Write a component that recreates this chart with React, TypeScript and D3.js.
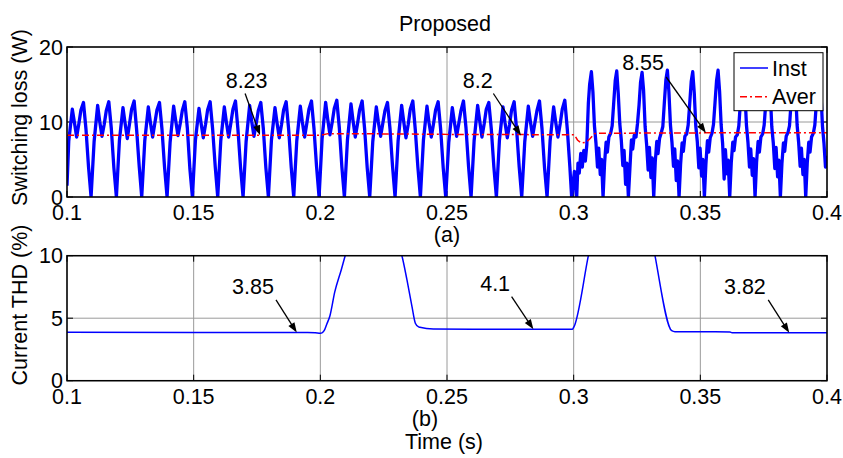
import React from "react";
import * as d3 from "d3";

// ---------------- DATA ----------------
const xTicks = [0.1, 0.15, 0.2, 0.25, 0.3, 0.35, 0.4];
const xTickLabels = ["0.1", "0.15", "0.2", "0.25", "0.3", "0.35", "0.4"];
const lossTicks = [0, 10, 20];
const thdTicks = [0, 5, 10];

// Instantaneous switching loss (W) vs time (s)
const instLoss: [number, number][] = [
  [0.1, 1.5], [0.1007, 7.5], [0.1021, 11.7], [0.1029, 10.0], [0.1038, 8.0], [0.1047, 9.8], [0.1055, 11.6], [0.1065, 12.6], [0.1075, 9.0], [0.1085, 4.0],
  [0.1095, 0], [0.1107, 7.4], [0.1121, 12.2], [0.1129, 10.1], [0.1138, 8.1], [0.1147, 9.7], [0.1155, 11.5], [0.1165, 12.7], [0.1175, 9.1], [0.1185, 3.9],
  [0.1195, 0], [0.1207, 7.6], [0.1221, 11.9], [0.1229, 9.9], [0.1238, 7.8], [0.1247, 9.8], [0.1255, 11.7], [0.1265, 12.8], [0.1275, 8.9], [0.1285, 4.1],
  [0.1295, 0], [0.1307, 7.5], [0.1321, 12.0], [0.1329, 10.0], [0.1338, 8.0], [0.1347, 9.9], [0.1355, 11.6], [0.1365, 12.6], [0.1375, 9.0], [0.1385, 4.0],
  [0.1395, 0], [0.1407, 7.3], [0.1421, 12.1], [0.1429, 10.2], [0.1438, 8.2], [0.1447, 9.8], [0.1455, 11.5], [0.1465, 12.7], [0.1475, 9.2], [0.1485, 3.8],
  [0.1495, 0], [0.1507, 7.6], [0.1521, 11.8], [0.1529, 9.9], [0.1538, 7.9], [0.1547, 9.7], [0.1555, 11.6], [0.1565, 12.7], [0.1575, 9.0], [0.1585, 4.1],
  [0.1595, 0], [0.1607, 7.5], [0.1621, 12.0], [0.1629, 10.0], [0.1638, 8.0], [0.1647, 9.9], [0.1655, 11.7], [0.1665, 12.8], [0.1675, 8.9], [0.1685, 4.0],
  [0.1695, 0], [0.1707, 7.4], [0.1721, 12.2], [0.1729, 10.1], [0.1738, 8.1], [0.1747, 9.8], [0.1755, 11.5], [0.1765, 12.6], [0.1775, 9.1], [0.1785, 3.9],
  [0.1795, 0], [0.1807, 7.6], [0.1821, 11.9], [0.1829, 9.9], [0.1838, 7.9], [0.1847, 9.7], [0.1855, 11.6], [0.1865, 12.7], [0.1875, 9.0], [0.1885, 4.0],
  [0.1895, 0], [0.1907, 7.5], [0.1921, 12.1], [0.1929, 10.0], [0.1938, 8.0], [0.1947, 9.9], [0.1955, 11.7], [0.1965, 12.8], [0.1975, 9.1], [0.1985, 4.1],
  [0.1995, 0], [0.2007, 7.8], [0.2021, 12.6], [0.2029, 10.4], [0.2038, 8.3], [0.2047, 10.0], [0.2055, 11.8], [0.2065, 12.9], [0.2075, 9.2], [0.2085, 4.0],
  [0.2095, 0], [0.2107, 7.6], [0.2121, 12.4], [0.2129, 10.2], [0.2138, 8.0], [0.2147, 9.8], [0.2155, 11.6], [0.2165, 12.8], [0.2175, 9.0], [0.2185, 3.9],
  [0.2195, 0], [0.2207, 7.4], [0.2221, 12.0], [0.2229, 10.0], [0.2238, 8.1], [0.2247, 9.9], [0.2255, 11.5], [0.2265, 12.6], [0.2275, 9.1], [0.2285, 4.1],
  [0.2295, 0], [0.2307, 7.5], [0.2321, 12.2], [0.2329, 10.1], [0.2338, 7.9], [0.2347, 9.7], [0.2355, 11.7], [0.2365, 12.8], [0.2375, 8.9], [0.2385, 4.0],
  [0.2395, 0], [0.2407, 7.6], [0.2421, 12.1], [0.2429, 9.9], [0.2438, 8.0], [0.2447, 9.8], [0.2455, 11.6], [0.2465, 12.7], [0.2475, 9.0], [0.2485, 3.9],
  [0.2495, 0], [0.2507, 7.3], [0.2521, 11.9], [0.2529, 10.0], [0.2538, 8.1], [0.2547, 9.9], [0.2555, 11.5], [0.2565, 12.8], [0.2575, 9.2], [0.2585, 4.1],
  [0.2595, 0], [0.2607, 7.5], [0.2621, 12.2], [0.2629, 10.2], [0.2638, 8.0], [0.2647, 9.8], [0.2655, 11.7], [0.2665, 12.6], [0.2675, 9.0], [0.2685, 4.0],
  [0.2695, 0], [0.2707, 7.6], [0.2721, 12.0], [0.2729, 9.9], [0.2738, 7.9], [0.2747, 9.7], [0.2755, 11.6], [0.2765, 12.7], [0.2775, 8.9], [0.2785, 4.0],
  [0.2795, 0], [0.2807, 7.4], [0.2821, 12.1], [0.2829, 10.1], [0.2838, 8.1], [0.2847, 9.9], [0.2855, 11.5], [0.2865, 12.8], [0.2875, 9.1], [0.2885, 3.9],
  [0.2895, 0], [0.2907, 7.5], [0.2921, 12.0], [0.2929, 10.0], [0.2938, 8.0], [0.2947, 9.8], [0.2955, 11.7], [0.2965, 12.9], [0.2975, 9.0], [0.2985, 4.0],
  [0.2992, 0], [0.3, 2.5], [0.3003, 3.4], [0.3008, 1.0], [0.3012, 0], [0.3017, 4.5], [0.3022, 3.2], [0.3028, 5.8], [0.3034, 4.0], [0.304, 6.2], [0.3046, 4.8], [0.3052, 7.0], [0.3058, 12.5], [0.3063, 15.0], [0.307, 16.7],
  [0.3076, 14.0], [0.3082, 9.5], [0.3088, 7.2], [0.3094, 4.0], [0.3099, 6.5], [0.3105, 3.0], [0.311, 5.0], [0.3116, 0], [0.3122, 4.5], [0.3128, 7.3], [0.3133, 6.0], [0.3139, 8.0], [0.3146, 8.5], [0.3152, 9.5], [0.3158, 12.5], [0.3164, 15.5], [0.317, 16.8],
  [0.3176, 13.8], [0.3182, 9.8], [0.3188, 7.6], [0.3194, 4.2], [0.3199, 6.2], [0.3205, 1.7], [0.321, 4.5], [0.3216, 0], [0.3222, 3.8], [0.3228, 7.6], [0.3233, 6.4], [0.3239, 8.2], [0.3246, 8.0], [0.3252, 9.8], [0.3258, 12.2], [0.3264, 15.3], [0.327, 16.6],
  [0.3276, 14.2], [0.3282, 9.4], [0.3288, 7.0], [0.3294, 3.6], [0.3299, 6.6], [0.3305, 2.6], [0.331, 5.2], [0.3316, 0], [0.3322, 4.6], [0.3328, 7.4], [0.3333, 5.8], [0.3339, 7.8], [0.3346, 8.6], [0.3352, 9.4], [0.3358, 12.6], [0.3364, 15.6], [0.337, 16.9],
  [0.3376, 14.0], [0.3382, 9.6], [0.3388, 7.3], [0.3394, 4.1], [0.3399, 6.4], [0.3405, 2.2], [0.341, 4.8], [0.3416, 0], [0.3422, 4.3], [0.3428, 7.2], [0.3433, 6.1], [0.3439, 8.1], [0.3446, 8.4], [0.3452, 9.6], [0.3458, 12.4], [0.3464, 15.4], [0.347, 16.7],
  [0.3476, 13.9], [0.3482, 9.5], [0.3488, 7.4], [0.3494, 3.9], [0.3499, 6.5], [0.3505, 2.8], [0.351, 5.0], [0.3516, 0], [0.3522, 4.4], [0.3528, 7.5], [0.3533, 6.0], [0.3539, 7.9], [0.3546, 8.5], [0.3552, 9.7], [0.3558, 12.6], [0.3564, 15.5], [0.357, 16.9],
  [0.3576, 14.1], [0.3582, 9.7], [0.3588, 7.1], [0.3594, 2.4], [0.3599, 6.3], [0.3605, 3.1], [0.361, 4.9], [0.3616, 0], [0.3622, 4.5], [0.3628, 7.3], [0.3633, 6.2], [0.3639, 8.0], [0.3646, 8.3], [0.3652, 9.5], [0.3658, 12.5], [0.3664, 15.4], [0.367, 16.8],
  [0.3676, 14.0], [0.3682, 9.6], [0.3688, 7.3], [0.3694, 4.0], [0.3699, 6.4], [0.3705, 2.9], [0.371, 5.1], [0.3716, 0], [0.3722, 4.6], [0.3728, 7.4], [0.3733, 6.0], [0.3739, 8.0], [0.3746, 8.4], [0.3752, 9.6], [0.3758, 12.4], [0.3764, 15.5], [0.377, 16.7],
  [0.3776, 13.9], [0.3782, 9.4], [0.3788, 7.2], [0.3794, 3.8], [0.3799, 6.6], [0.3805, 2.7], [0.381, 4.9], [0.3816, 0], [0.3822, 4.4], [0.3828, 7.2], [0.3833, 6.1], [0.3839, 8.1], [0.3846, 8.6], [0.3852, 9.5], [0.3858, 12.5], [0.3864, 15.6], [0.387, 16.8],
  [0.3876, 14.1], [0.3882, 9.6], [0.3888, 7.3], [0.3894, 4.1], [0.3899, 6.5], [0.3905, 3.0], [0.391, 5.0], [0.3916, 0], [0.3922, 4.5], [0.3928, 7.3], [0.3933, 6.0], [0.3939, 8.0], [0.3946, 8.5], [0.3952, 9.6], [0.3958, 12.5], [0.3964, 15.5], [0.397, 16.8],
  [0.3976, 14.0], [0.3982, 9.5], [0.3988, 7.2], [0.3994, 4.0], [0.4, 5.5],
];

// Average switching loss (W)
const averLoss: [number, number][] = [
  [0.1, 8.23], [0.2, 8.23], [0.2005, 8.26], [0.203, 8.45], [0.21, 8.45], [0.25, 8.35], [0.298, 8.3], [0.3003, 8.3],
  [0.3015, 7.6], [0.303, 7.2], [0.305, 7.3], [0.3065, 7.8], [0.3082, 8.45], [0.31, 8.5], [0.35, 8.55], [0.4, 8.58],
];

// Current THD (%)
const thd: [number, number][] = [
  [0.1, 3.87], [0.15, 3.86], [0.195, 3.85], [0.198, 3.83], [0.2, 3.79], [0.2008, 3.84], [0.2015, 4.0], [0.2025, 4.5],
  [0.2038, 5.2], [0.2057, 7.1], [0.2083, 8.9], [0.2098, 10.0], [0.212, 11.5], [0.229, 11.5], [0.2322, 10.0],
  [0.2342, 8.06], [0.2362, 5.9], [0.2375, 4.6], [0.2388, 4.3], [0.2393, 4.27], [0.2446, 4.14], [0.26, 4.12], [0.2995, 4.12],
  [0.3001, 4.3], [0.3058, 10.0], [0.307, 11.2], [0.331, 11.2], [0.3321, 10.0], [0.3387, 4.0], [0.34, 3.92],
  [0.3617, 3.9], [0.3625, 3.84], [0.4, 3.83],
];

const legendLabels = ["Inst", "Aver"];

const lossNotes = [
  { label: "8.23", tx: 0.1709, tv: 15.5, sx: 0.1703, sv: 13.8, ex: 0.1762, ev: 8.23 },
  { label: "8.2", tx: 0.2621, tv: 15.6, sx: 0.2683, sv: 13.8, ex: 0.2792, ev: 8.2 },
  { label: "8.55", tx: 0.3274, tv: 17.9, sx: 0.3365, sv: 16.0, ex: 0.3522, ev: 8.55 },
];
const thdNotes = [
  { label: "3.85", tx: 0.1734, tv: 7.52, sx: 0.1825, sv: 6.46, ex: 0.1907, ev: 3.85 },
  { label: "4.1", tx: 0.269, tv: 7.82, sx: 0.2755, sv: 6.72, ex: 0.2841, ev: 4.12 },
  { label: "3.82", tx: 0.3676, tv: 7.52, sx: 0.3768, sv: 6.46, ex: 0.3851, ev: 3.83 },
];

// ---------------- LAYOUT ----------------
const W = 843;
const H = 458;
const FONT = "Arial, 'Liberation Sans', sans-serif";
const FS = 21.5;
const X0 = 67;
const X1 = 827;
const TOP = { y0: 47, y1: 197 };
const BOT = { y0: 255.7, y1: 380.7 };

const x = d3.scaleLinear().domain([0.1, 0.4]).range([X0, X1]);
const yLoss = d3.scaleLinear().domain([0, 20]).range([TOP.y1, TOP.y0]);
const yThd = d3.scaleLinear().domain([0, 10]).range([BOT.y1, BOT.y0]);

function Arrow({ x1, y1, x2, y2 }: { x1: number; y1: number; x2: number; y2: number }) {
  const dx = x2 - x1;
  const dy = y2 - y1;
  const len = Math.hypot(dx, dy);
  const ux = dx / len;
  const uy = dy / len;
  const L = 10;
  const w = 3.6;
  const bx = x2 - ux * L;
  const by = y2 - uy * L;
  const pts = [
    [x2, y2],
    [bx - uy * w, by + ux * w],
    [bx + uy * w, by - ux * w],
  ];
  return (
    <g>
      <line x1={x1} y1={y1} x2={bx + ux * 2} y2={by + uy * 2} stroke="#000" strokeWidth={1.3} />
      <polygon points={pts.map((p) => p.join(",")).join(" ")} fill="#000" />
    </g>
  );
}

function Panel({
  y,
  ticks,
  clipId,
}: {
  y: d3.ScaleLinear<number, number>;
  ticks: number[];
  clipId: string;
}) {
  const [yb, yt] = y.range();
  const tl = 6;
  return (
    <g>
      {xTicks.map((t, i) => (
        <line key={"gx" + i} x1={x(t)} x2={x(t)} y1={yt} y2={yb} stroke="#9a9a9a" strokeWidth={1} />
      ))}
      {ticks.map((v, i) => (
        <line key={"gy" + i} x1={X0} x2={X1} y1={y(v)} y2={y(v)} stroke="#9a9a9a" strokeWidth={1} />
      ))}
      {xTicks.map((t, i) => (
        <g key={"tx" + i}>
          <line x1={x(t)} x2={x(t)} y1={yb} y2={yb - tl} stroke="#000" strokeWidth={1} />
          <line x1={x(t)} x2={x(t)} y1={yt} y2={yt + tl} stroke="#000" strokeWidth={1} />
        </g>
      ))}
      {ticks.map((v, i) => (
        <g key={"ty" + i}>
          <line x1={X0} x2={X0 + tl} y1={y(v)} y2={y(v)} stroke="#000" strokeWidth={1} />
          <line x1={X1} x2={X1 - tl} y1={y(v)} y2={y(v)} stroke="#000" strokeWidth={1} />
          <text x={X0 - 4} y={y(v)} dy="0.35em" textAnchor="end" fontSize={FS} fontFamily={FONT}>
            {String(v)}
          </text>
        </g>
      ))}
      {xTicks.map((t, i) => (
        <text key={"lx" + i} x={x(t)} y={yb + 23} textAnchor="middle" fontSize={FS} fontFamily={FONT}>
          {xTickLabels[i]}
        </text>
      ))}
      <clipPath id={clipId}>
        <rect x={X0} y={yt} width={X1 - X0} height={yb - yt} />
      </clipPath>
    </g>
  );
}

export default function App() {
  const lossLine = d3
    .line<[number, number]>()
    .x((d) => x(d[0]))
    .y((d) => yLoss(d[1]));
  const thdLine = d3
    .line<[number, number]>()
    .curve(d3.curveMonotoneX)
    .x((d) => x(d[0]))
    .y((d) => yThd(d[1]));

  const legX0 = 734;
  const legY0 = 52.7;
  const legW = 89;
  const legH = 58;

  return (
    <svg
      width={W}
      height={H}
      style={{ position: "absolute", left: 0, top: 0, display: "block", background: "#fff" }}
    >
      <rect x={0} y={0} width={W} height={H} fill="#fff" />
      <text x={445} y={30.5} textAnchor="middle" fontSize={FS} fontFamily={FONT}>
        Proposed
      </text>

      {/* Top panel */}
      <Panel y={yLoss} ticks={lossTicks} clipId="clipTop" />
      <g clipPath="url(#clipTop)">
        <path d={lossLine(instLoss) || ""} fill="none" stroke="#0000ff" strokeWidth={3.3} strokeLinejoin="round" />
        <path
          d={lossLine(averLoss) || ""}
          fill="none"
          stroke="#ff0000"
          strokeWidth={1.5}
          strokeDasharray="7 3 2 3"
        />
      </g>
      <rect x={X0} y={TOP.y0} width={X1 - X0} height={TOP.y1 - TOP.y0} fill="none" stroke="#000" strokeWidth={1.5} />
      <text
        transform={`translate(27,${(TOP.y0 + TOP.y1) / 2 - 4.5}) rotate(-90)`}
        textAnchor="middle"
        fontSize={FS}
        fontFamily={FONT}
      >
        Switching loss (W)
      </text>
      {lossNotes.map((n, i) => (
        <g key={"ln" + i}>
          <text x={x(n.tx)} y={yLoss(n.tv)} dy="0.36em" textAnchor="middle" fontSize={FS} fontFamily={FONT}>
            {n.label}
          </text>
          <Arrow x1={x(n.sx)} y1={yLoss(n.sv)} x2={x(n.ex)} y2={yLoss(n.ev)} />
        </g>
      ))}
      {/* Legend */}
      <g>
        <rect x={legX0} y={legY0} width={legW} height={legH} fill="#fff" stroke="#000" strokeWidth={1} />
        <line x1={740} x2={768} y1={68} y2={68} stroke="#0000ff" strokeWidth={1.5} />
        <text x={772} y={68} dy="0.36em" fontSize={FS} fontFamily={FONT}>
          {legendLabels[0]}
        </text>
        <line x1={740} x2={768} y1={96.7} y2={96.7} stroke="#ff0000" strokeWidth={1.5} strokeDasharray="7 3 2 3" />
        <text x={772} y={96.7} dy="0.36em" fontSize={FS} fontFamily={FONT}>
          {legendLabels[1]}
        </text>
      </g>
      <text x={447} y={242} textAnchor="middle" fontSize={FS} fontFamily={FONT}>
        (a)
      </text>

      {/* Bottom panel */}
      <Panel y={yThd} ticks={thdTicks} clipId="clipBot" />
      <g clipPath="url(#clipBot)">
        <path d={thdLine(thd) || ""} fill="none" stroke="#0000ff" strokeWidth={1.5} strokeLinejoin="round" />
      </g>
      <rect x={X0} y={BOT.y0} width={X1 - X0} height={BOT.y1 - BOT.y0} fill="none" stroke="#000" strokeWidth={1.5} />
      <text
        transform={`translate(27,305) rotate(-90)`}
        textAnchor="middle"
        fontSize={FS}
        fontFamily={FONT}
      >
        Current THD (%)
      </text>
      {thdNotes.map((n, i) => (
        <g key={"tn" + i}>
          <text x={x(n.tx)} y={yThd(n.tv)} dy="0.36em" textAnchor="middle" fontSize={FS} fontFamily={FONT}>
            {n.label}
          </text>
          <Arrow x1={x(n.sx)} y1={yThd(n.sv)} x2={x(n.ex)} y2={yThd(n.ev)} />
        </g>
      ))}
      <text x={425} y={426} textAnchor="middle" fontSize={FS} fontFamily={FONT}>
        (b)
      </text>
      <text x={444} y={449} textAnchor="middle" fontSize={FS} fontFamily={FONT}>
        Time (s)
      </text>
    </svg>
  );
}
